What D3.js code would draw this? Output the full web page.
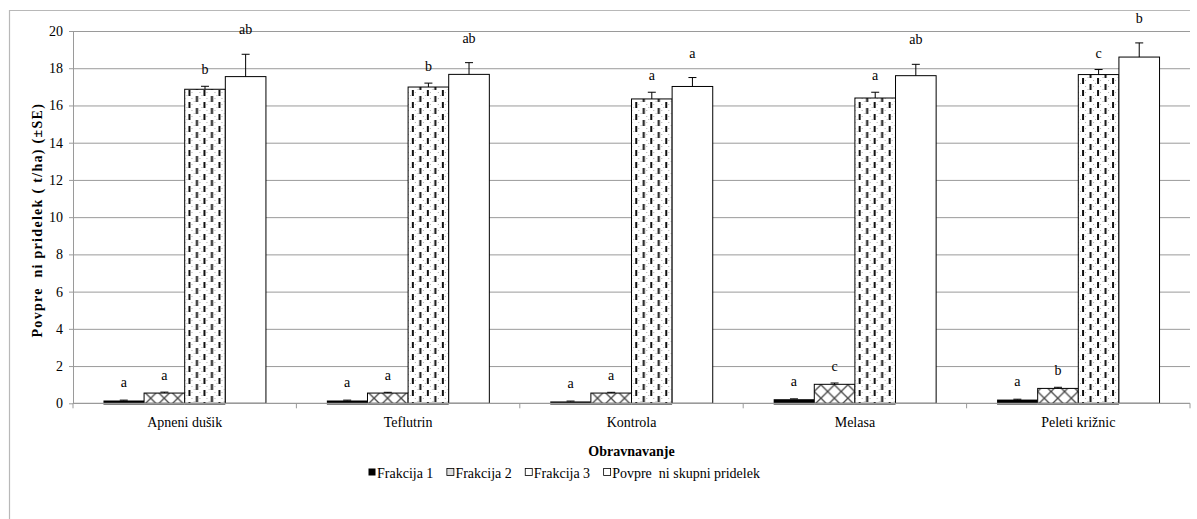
<!DOCTYPE html>
<html>
<head>
<meta charset="utf-8">
<script src="https://cdn.jsdelivr.net/npm/d3@7"></script>
<style>
  html, body { margin: 0; padding: 0; background: #fff; }
  svg { display: block; }
  svg text { font-family: "Liberation Serif", Tinos, "Times New Roman", Times, "DejaVu Serif", "Noto Serif", serif !important; fill: #000; }
</style>
</head>
<body>
<svg id="chart" width="1197" height="519"></svg>
<script>
// Treatments (x categories)
const categories = ["Apneni dušik", "Teflutrin", "Kontrola", "Melasa", "Peleti križnic"];

// Series names
const seriesNames = ["Frakcija 1", "Frakcija 2", "Frakcija 3", "Povpre\u00a0\u00a0ni skupni pridelek"];

// Mean yield per fraction (t/ha) and standard errors
const frakcija1   = [0.15, 0.15, 0.10, 0.22, 0.20];
const frakcija1SE = [0.02, 0.02, 0.02, 0.02, 0.02];
const frakcija2   = [0.55, 0.55, 0.55, 1.02, 0.80];
const frakcija2SE = [0.05, 0.04, 0.04, 0.07, 0.06];
const frakcija3   = [16.87, 16.99, 16.35, 16.40, 17.66];
const frakcija3SE = [0.16, 0.21, 0.36, 0.31, 0.27];
const skupni      = [17.55, 17.67, 17.02, 17.60, 18.60];
const skupniSE    = [1.20, 0.63, 0.48, 0.61, 0.76];

// Significance letters
const frakcija1Letters = ["a", "a", "a", "a", "a"];
const frakcija2Letters = ["a", "a", "a", "c", "b"];
const frakcija3Letters = ["b", "b", "a", "a", "c"];
const skupniLetters    = ["ab", "ab", "a", "ab", "b"];

// Axis ticks
const yTicks = [0, 2, 4, 6, 8, 10, 12, 14, 16, 18, 20];
const yTitle = "Povpre\u00a0\u00a0ni pridelek ( t/ha) (\u00b1SE)";
const xTitle = "Obravnavanje";

const seriesValues = [frakcija1, frakcija2, frakcija3, skupni];
const seriesSE     = [frakcija1SE, frakcija2SE, frakcija3SE, skupniSE];
const seriesLetters = [frakcija1Letters, frakcija2Letters, frakcija3Letters, skupniLetters];

const svg = d3.select("#chart");
const H = 519;
const plot = { left: 73, right: 1190, top: 31, bottom: 403.3 };

// ---- fill patterns ----
const defs = svg.append("defs");

// cross-hatch for Frakcija 2
const p2 = defs.append("pattern").attr("id", "pat-f2").attr("patternUnits", "userSpaceOnUse")
  .attr("width", 13.5).attr("height", 13.5);
p2.append("rect").attr("width", 13.5).attr("height", 13.5).attr("fill", "#fff");
p2.append("path").attr("d", "M0,0L13.5,13.5M13.5,0L0,13.5").attr("stroke", "#444").attr("stroke-width", 1.3);

// dashed vertical on dotted background for Frakcija 3
const p3 = defs.append("pattern").attr("id", "pat-f3").attr("patternUnits", "userSpaceOnUse")
  .attr("width", 15).attr("height", 12);
p3.append("rect").attr("width", 15).attr("height", 12).attr("fill", "#fff");
[[6, 2], [13, 2], [6, 8], [13, 8], [0.5, 5], [8, 11]].forEach(([cx, cy]) => {
  p3.append("rect").attr("x", cx).attr("y", cy).attr("width", 1).attr("height", 1).attr("fill", "#b0b0b0");
});
p3.append("rect").attr("x", 2.5).attr("y", 0).attr("width", 2).attr("height", 6).attr("fill", "#111");
p3.append("rect").attr("x", 10).attr("y", 6).attr("width", 2).attr("height", 6).attr("fill", "#111");

const fills = ["#000", "url(#pat-f2)", "url(#pat-f3)", "#fff"];
const labelGap = [13, 12, 12, 20];

// ---- scales ----
const x = d3.scaleBand().domain(categories).range([plot.left, plot.right])
  .paddingInner(1.5 / 5.5).paddingOuter(0.75 / 5.5);
const xs = d3.scaleBand().domain(d3.range(seriesNames.length)).range([0, x.bandwidth()]);
const y = d3.scaleLinear().domain([0, 20]).range([plot.bottom, plot.top]);

// ---- chart frame (top and left edges) ----
svg.append("path").attr("d", `M9.5,${H}V10.5H1190`).attr("fill", "none")
  .attr("stroke", "#b8b8b8").attr("stroke-width", 1.2);

// ---- gridlines ----
svg.append("g").attr("transform", `translate(${plot.left},0)`)
  .call(d3.axisLeft(y).tickValues(yTicks.slice(1)).tickSize(-(plot.right - plot.left)).tickFormat(""))
  .call(g => g.select(".domain").remove())
  .call(g => g.selectAll("line").attr("stroke", "#9a9a9a").attr("stroke-width", 1));

// ---- y axis ----
svg.append("g").attr("transform", `translate(${plot.left},0)`)
  .call(d3.axisLeft(y).tickValues(yTicks).tickSize(4).tickSizeOuter(0).tickPadding(6))
  .call(g => g.select(".domain").attr("stroke", "#9a9a9a"))
  .call(g => g.selectAll("line").attr("stroke", "#9a9a9a"))
  .call(g => g.selectAll("text").attr("font-size", 14));

// ---- bars ----
const groups = svg.append("g").selectAll("g").data(categories).join("g")
  .attr("transform", d => `translate(${x(d)},0)`);

seriesNames.forEach((name, s) => {
  groups.append("rect")
    .attr("x", xs(s))
    .attr("width", xs.bandwidth())
    .attr("y", (d, i) => y(seriesValues[s][i]))
    .attr("height", (d, i) => y(0) - y(seriesValues[s][i]))
    .attr("fill", fills[s])
    .attr("stroke", "#000")
    .attr("stroke-width", s === 0 ? 0 : 1);
});

// ---- x axis line with category boundary ticks ----
svg.append("line").attr("x1", plot.left).attr("x2", plot.right)
  .attr("y1", plot.bottom).attr("y2", plot.bottom).attr("stroke", "#9a9a9a").attr("stroke-width", 1.2);
const boundaries = d3.range(categories.length + 1).map(i => plot.left + i * x.step());
svg.append("g").selectAll("line").data(boundaries).join("line")
  .attr("x1", d => d).attr("x2", d => d).attr("y1", plot.bottom).attr("y2", plot.bottom + 5)
  .attr("stroke", "#9a9a9a");

// dark base edge under the first three fractions
seriesNames.forEach((name, s) => {
  if (s > 2) return;
  groups.append("line")
    .attr("x1", xs(s)).attr("x2", xs(s) + xs.bandwidth())
    .attr("y1", plot.bottom + 0.5).attr("y2", plot.bottom + 0.5)
    .attr("stroke", "#000").attr("stroke-width", 1.2);
});

// ---- error bars (upper only) ----
seriesNames.forEach((name, s) => {
  const cx = xs(s) + xs.bandwidth() / 2;
  groups.append("path")
    .attr("d", (d, i) => {
      const v = seriesValues[s][i], e = seriesSE[s][i];
      return `M${cx},${y(v)}V${y(v + e)}M${cx - 4},${y(v + e)}H${cx + 4}`;
    })
    .attr("fill", "none").attr("stroke", "#000").attr("stroke-width", 1);
});

// ---- significance letters ----
seriesNames.forEach((name, s) => {
  groups.append("text")
    .attr("x", xs(s) + xs.bandwidth() / 2)
    .attr("y", (d, i) => y(seriesValues[s][i] + seriesSE[s][i]) - labelGap[s])
    .attr("text-anchor", "middle")
    .attr("font-size", 14)
    .text((d, i) => seriesLetters[s][i]);
});

// ---- category labels ----
svg.append("g").attr("transform", `translate(0,${plot.bottom})`)
  .call(d3.axisBottom(x).tickSize(0).tickPadding(14))
  .call(g => g.select(".domain").remove())
  .call(g => g.selectAll("text").attr("font-size", 14));

// ---- axis titles ----
svg.append("text").attr("x", (plot.left + plot.right) / 2).attr("y", 456)
  .attr("text-anchor", "middle").attr("font-weight", "bold").attr("font-size", 14).text(xTitle);

svg.append("text").attr("transform", `translate(42,${(plot.top + plot.bottom) / 2 + 3}) rotate(-90)`)
  .attr("text-anchor", "middle").attr("font-weight", "bold").attr("font-size", 14)
  .attr("letter-spacing", 1.3).style("white-space", "pre").text(yTitle);

// ---- legend ----
const legend = svg.append("g").attr("transform", "translate(368,473)");
let lx = 0;
seriesNames.forEach((name, s) => {
  const item = legend.append("g").attr("transform", `translate(${lx},0)`);
  item.append("rect").attr("x", 0.5).attr("y", -4.5).attr("width", 7).attr("height", 7)
    .attr("fill", s === 0 ? "#000" : s === 1 ? "#ddd" : "#fff")
    .attr("stroke", "#000").attr("stroke-width", s === 0 ? 0 : 0.8);
  const t = item.append("text").attr("x", 9).attr("y", 4.5).attr("font-size", 14)
    .style("white-space", "pre").text(name);
  lx += 9 + t.node().getComputedTextLength() + 13;
});
</script>
</body>
</html>
